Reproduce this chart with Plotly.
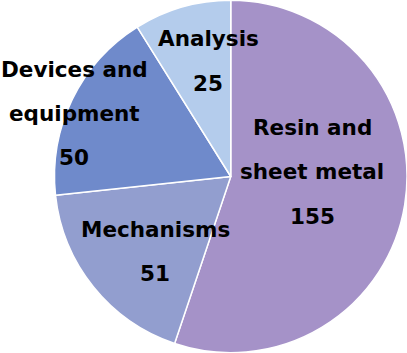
import plotly.graph_objects as go

categories = ["Resin and sheet metal", "Mechanisms", "Devices and equipment", "Analysis"]
values = [155, 51, 50, 25]
colors = ["#A592C8", "#929ECF", "#6F8ACB", "#B4CCEC"]
label_lines = [["Resin and", "sheet metal"], ["Mechanisms"], ["Devices and", "equipment"], ["Analysis"]]
# label anchor (paper coords, x center, y of first line) per category
label_pos = [(312, 128), (155, 229), (74, 69), (208, 39)]
line_step = 44

W, H = 407, 353

fig = go.Figure(go.Pie(
    labels=categories, values=values, sort=False, direction="clockwise", rotation=0,
    marker=dict(colors=colors, line=dict(color="white", width=1.5)),
    textinfo="none", showlegend=False,
    domain=dict(x=[(231 - 176.5) / W, 1.0], y=[0, 1]),
))

anns = []
for lines, v, (px, py) in zip(label_lines, values, label_pos):
    for i, t in enumerate(lines + [str(v)]):
        y = py + i * line_step
        anns.append(dict(x=px / W, y=1 - y / H, xref="paper", yref="paper", text=t,
                         showarrow=False, xanchor="center", yanchor="middle",
                         font=dict(family="DejaVu Sans", size=21.5, color="black", weight="bold")))

fig.update_layout(width=W, height=H, margin=dict(l=0, r=0, t=0, b=0),
                  paper_bgcolor="white", plot_bgcolor="white", annotations=anns)
fig.write_html("out.html")
